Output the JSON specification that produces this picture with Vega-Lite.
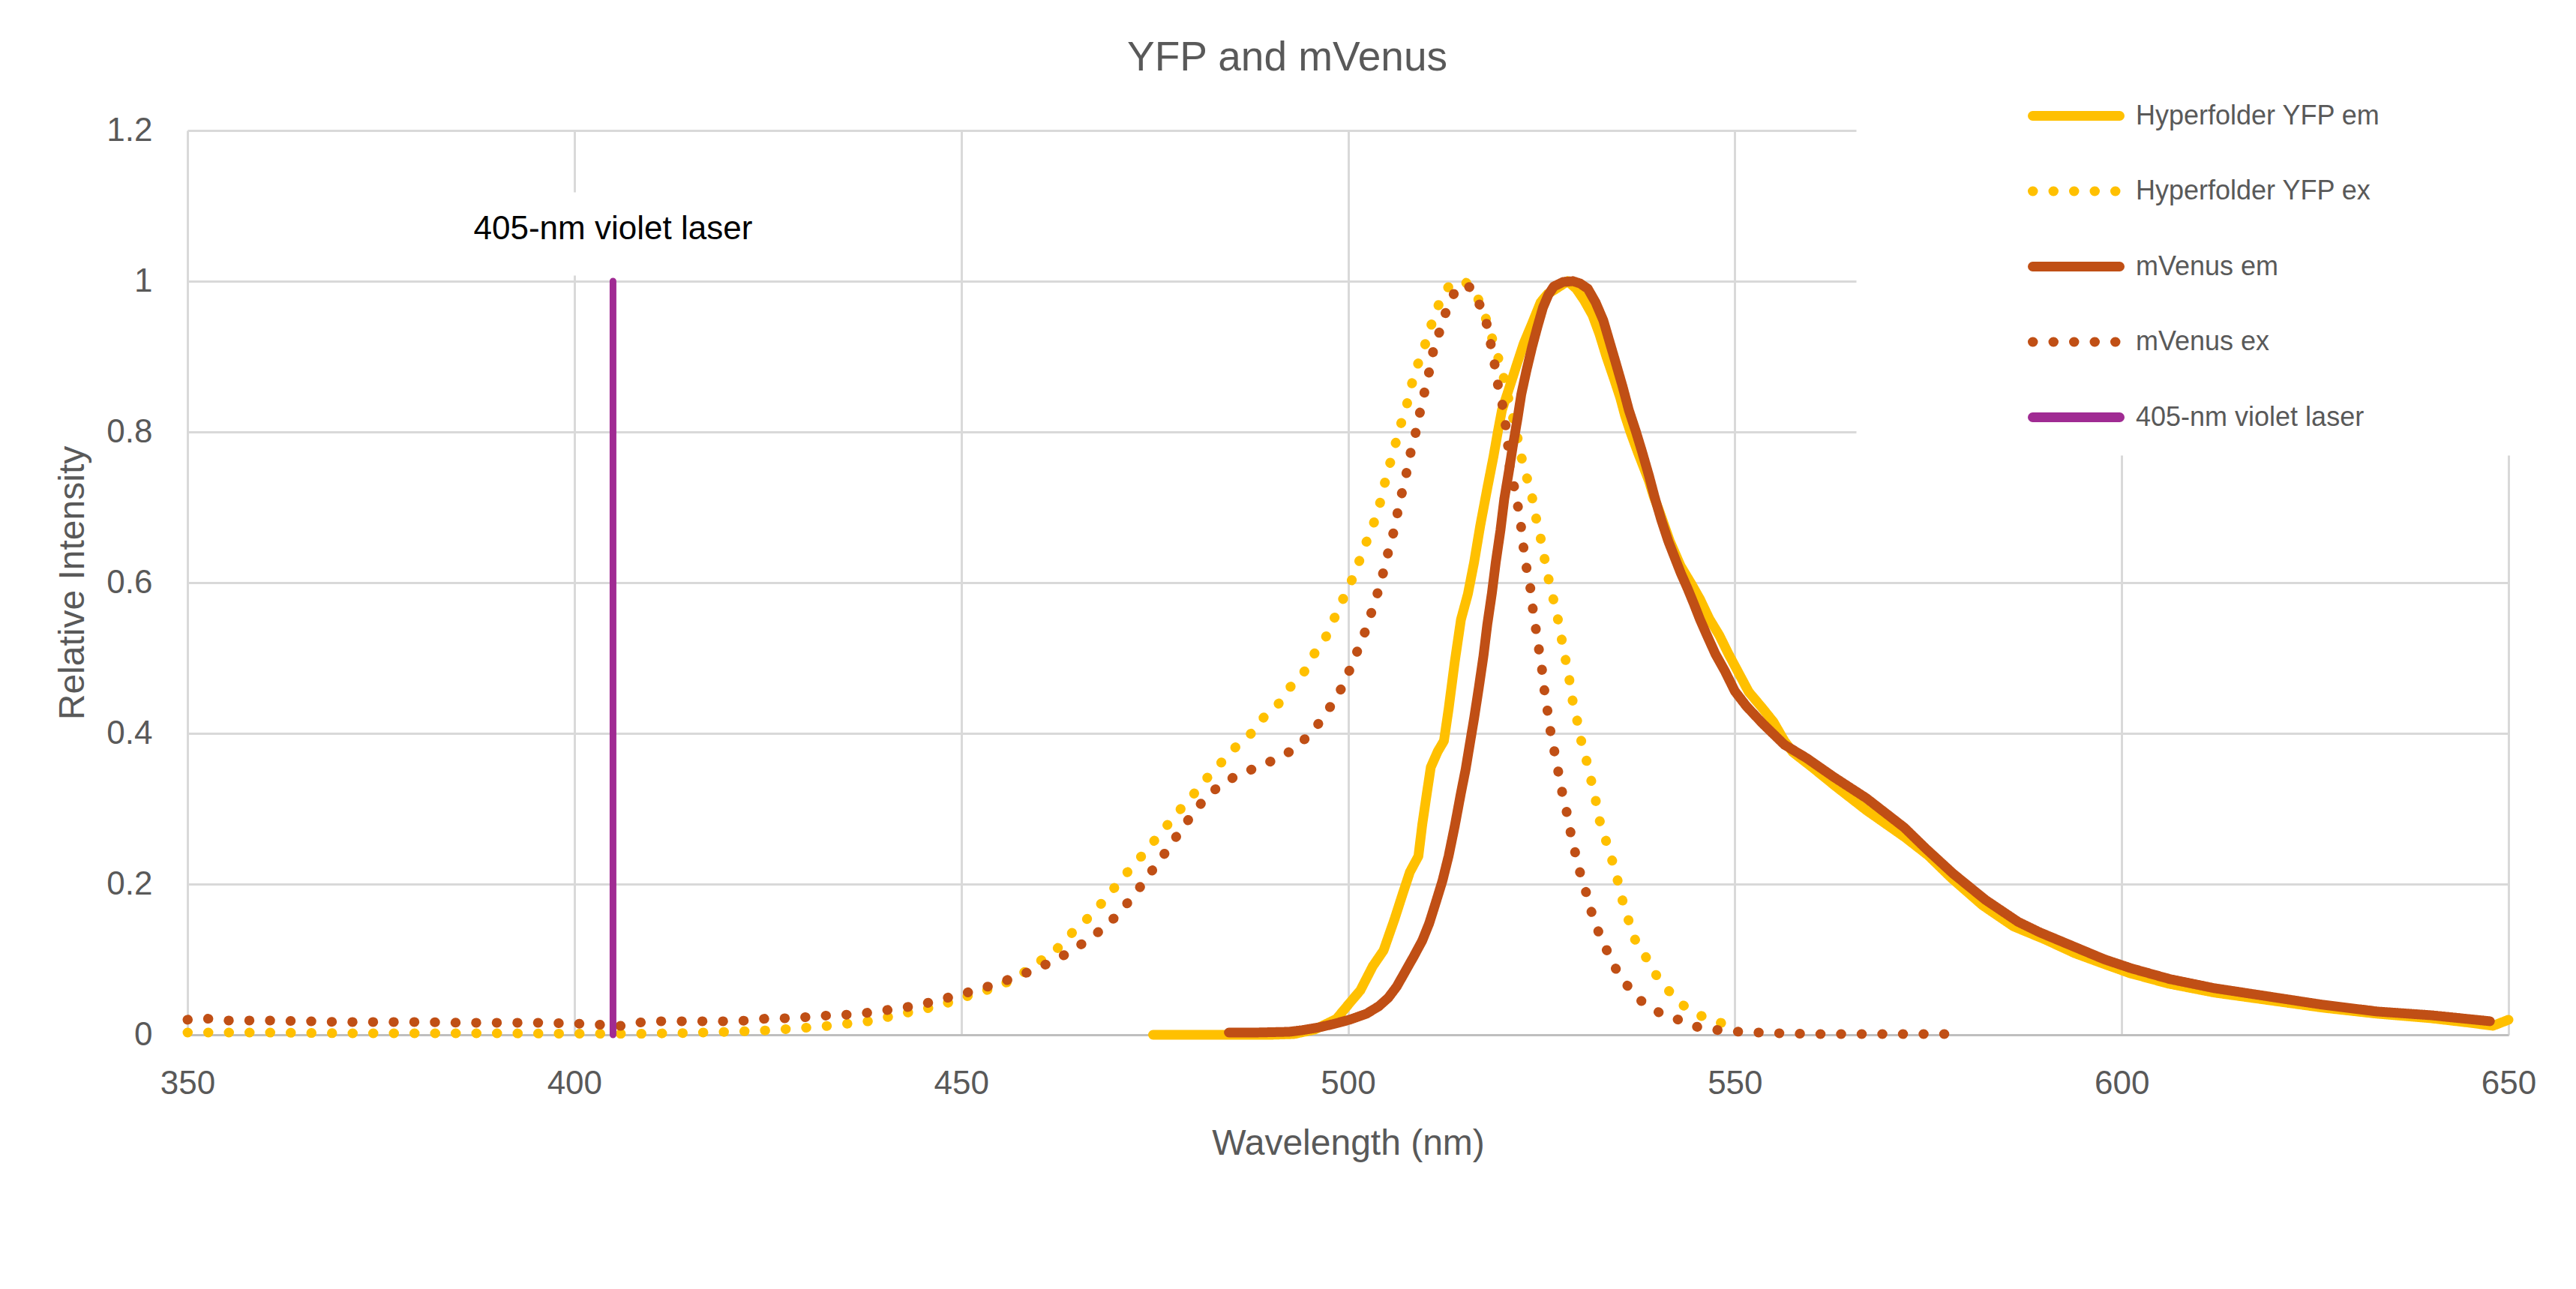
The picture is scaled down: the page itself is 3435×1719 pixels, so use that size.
{
  "$schema": "https://vega.github.io/schema/vega-lite/v6.json",
  "autosize": "none",
  "width": 3095,
  "height": 1206,
  "padding": {"left": 250, "top": 174, "right": 90, "bottom": 339},
  "background": "white",
  "title": {
    "text": "YFP and mVenus",
    "font": "Liberation Sans",
    "fontSize": 55,
    "fontWeight": "normal",
    "color": "#595959",
    "anchor": "middle",
    "dx": -81,
    "dy": 95,
    "offset": 79
  },
  "config": {
    "font": "Liberation Sans",
    "view": {"stroke": null}
  },
  "datasets": {
    "spectra": [
      {"series": "Hyperfolder YFP em", "wl": 474.8, "v": 0},
      {"series": "Hyperfolder YFP em", "wl": 480, "v": 0},
      {"series": "Hyperfolder YFP em", "wl": 485, "v": 0},
      {"series": "Hyperfolder YFP em", "wl": 490, "v": 0},
      {"series": "Hyperfolder YFP em", "wl": 493, "v": 0.001},
      {"series": "Hyperfolder YFP em", "wl": 495.7, "v": 0.007},
      {"series": "Hyperfolder YFP em", "wl": 498.5, "v": 0.021},
      {"series": "Hyperfolder YFP em", "wl": 500.2, "v": 0.042},
      {"series": "Hyperfolder YFP em", "wl": 501.6, "v": 0.059},
      {"series": "Hyperfolder YFP em", "wl": 503.2, "v": 0.091},
      {"series": "Hyperfolder YFP em", "wl": 504.6, "v": 0.112},
      {"series": "Hyperfolder YFP em", "wl": 506, "v": 0.153},
      {"series": "Hyperfolder YFP em", "wl": 507.1, "v": 0.188},
      {"series": "Hyperfolder YFP em", "wl": 508, "v": 0.216},
      {"series": "Hyperfolder YFP em", "wl": 509.1, "v": 0.237},
      {"series": "Hyperfolder YFP em", "wl": 509.6, "v": 0.279},
      {"series": "Hyperfolder YFP em", "wl": 510.2, "v": 0.321},
      {"series": "Hyperfolder YFP em", "wl": 510.7, "v": 0.355},
      {"series": "Hyperfolder YFP em", "wl": 511.6, "v": 0.376},
      {"series": "Hyperfolder YFP em", "wl": 512.4, "v": 0.39},
      {"series": "Hyperfolder YFP em", "wl": 513, "v": 0.432},
      {"series": "Hyperfolder YFP em", "wl": 513.8, "v": 0.495},
      {"series": "Hyperfolder YFP em", "wl": 514.6, "v": 0.551},
      {"series": "Hyperfolder YFP em", "wl": 515.5, "v": 0.585},
      {"series": "Hyperfolder YFP em", "wl": 516.3, "v": 0.627},
      {"series": "Hyperfolder YFP em", "wl": 517.1, "v": 0.676},
      {"series": "Hyperfolder YFP em", "wl": 518, "v": 0.725},
      {"series": "Hyperfolder YFP em", "wl": 518.8, "v": 0.767},
      {"series": "Hyperfolder YFP em", "wl": 519.4, "v": 0.802},
      {"series": "Hyperfolder YFP em", "wl": 519.9, "v": 0.829},
      {"series": "Hyperfolder YFP em", "wl": 520.8, "v": 0.857},
      {"series": "Hyperfolder YFP em", "wl": 521.9, "v": 0.892},
      {"series": "Hyperfolder YFP em", "wl": 522.7, "v": 0.917},
      {"series": "Hyperfolder YFP em", "wl": 523.8, "v": 0.944},
      {"series": "Hyperfolder YFP em", "wl": 524.9, "v": 0.972},
      {"series": "Hyperfolder YFP em", "wl": 525.8, "v": 0.983},
      {"series": "Hyperfolder YFP em", "wl": 526.9, "v": 0.99},
      {"series": "Hyperfolder YFP em", "wl": 528.4, "v": 1.0},
      {"series": "Hyperfolder YFP em", "wl": 529.5, "v": 0.99},
      {"series": "Hyperfolder YFP em", "wl": 530.5, "v": 0.975},
      {"series": "Hyperfolder YFP em", "wl": 531.6, "v": 0.955},
      {"series": "Hyperfolder YFP em", "wl": 532.5, "v": 0.93},
      {"series": "Hyperfolder YFP em", "wl": 533.4, "v": 0.9},
      {"series": "Hyperfolder YFP em", "wl": 534.4, "v": 0.87},
      {"series": "Hyperfolder YFP em", "wl": 535.2, "v": 0.845},
      {"series": "Hyperfolder YFP em", "wl": 535.8, "v": 0.822},
      {"series": "Hyperfolder YFP em", "wl": 536.5, "v": 0.8},
      {"series": "Hyperfolder YFP em", "wl": 537.5, "v": 0.772},
      {"series": "Hyperfolder YFP em", "wl": 538.9, "v": 0.735},
      {"series": "Hyperfolder YFP em", "wl": 539.5, "v": 0.715},
      {"series": "Hyperfolder YFP em", "wl": 540.3, "v": 0.693},
      {"series": "Hyperfolder YFP em", "wl": 541.6, "v": 0.655},
      {"series": "Hyperfolder YFP em", "wl": 543, "v": 0.622},
      {"series": "Hyperfolder YFP em", "wl": 544.4, "v": 0.598},
      {"series": "Hyperfolder YFP em", "wl": 545.5, "v": 0.578},
      {"series": "Hyperfolder YFP em", "wl": 546.7, "v": 0.552},
      {"series": "Hyperfolder YFP em", "wl": 548, "v": 0.53},
      {"series": "Hyperfolder YFP em", "wl": 549.2, "v": 0.505},
      {"series": "Hyperfolder YFP em", "wl": 550.5, "v": 0.48},
      {"series": "Hyperfolder YFP em", "wl": 551.8, "v": 0.455},
      {"series": "Hyperfolder YFP em", "wl": 553.6, "v": 0.433},
      {"series": "Hyperfolder YFP em", "wl": 555, "v": 0.415},
      {"series": "Hyperfolder YFP em", "wl": 556.4, "v": 0.39},
      {"series": "Hyperfolder YFP em", "wl": 557.5, "v": 0.375},
      {"series": "Hyperfolder YFP em", "wl": 560, "v": 0.355},
      {"series": "Hyperfolder YFP em", "wl": 563, "v": 0.33},
      {"series": "Hyperfolder YFP em", "wl": 567, "v": 0.298},
      {"series": "Hyperfolder YFP em", "wl": 572, "v": 0.262},
      {"series": "Hyperfolder YFP em", "wl": 575, "v": 0.238},
      {"series": "Hyperfolder YFP em", "wl": 578, "v": 0.208},
      {"series": "Hyperfolder YFP em", "wl": 582, "v": 0.172},
      {"series": "Hyperfolder YFP em", "wl": 586, "v": 0.144},
      {"series": "Hyperfolder YFP em", "wl": 590, "v": 0.127},
      {"series": "Hyperfolder YFP em", "wl": 594, "v": 0.108},
      {"series": "Hyperfolder YFP em", "wl": 598, "v": 0.093},
      {"series": "Hyperfolder YFP em", "wl": 601, "v": 0.082},
      {"series": "Hyperfolder YFP em", "wl": 606, "v": 0.068},
      {"series": "Hyperfolder YFP em", "wl": 612, "v": 0.056},
      {"series": "Hyperfolder YFP em", "wl": 619, "v": 0.046},
      {"series": "Hyperfolder YFP em", "wl": 626, "v": 0.036},
      {"series": "Hyperfolder YFP em", "wl": 633, "v": 0.028},
      {"series": "Hyperfolder YFP em", "wl": 640, "v": 0.022},
      {"series": "Hyperfolder YFP em", "wl": 645, "v": 0.016},
      {"series": "Hyperfolder YFP em", "wl": 648, "v": 0.012},
      {"series": "Hyperfolder YFP em", "wl": 650, "v": 0.02},

      {"series": "Hyperfolder YFP ex", "wl": 350, "v": 0.003},
      {"series": "Hyperfolder YFP ex", "wl": 360, "v": 0.003},
      {"series": "Hyperfolder YFP ex", "wl": 370, "v": 0.002},
      {"series": "Hyperfolder YFP ex", "wl": 380, "v": 0.002},
      {"series": "Hyperfolder YFP ex", "wl": 390, "v": 0.002},
      {"series": "Hyperfolder YFP ex", "wl": 400, "v": 0.0015},
      {"series": "Hyperfolder YFP ex", "wl": 409, "v": 0.0014},
      {"series": "Hyperfolder YFP ex", "wl": 412, "v": 0.002},
      {"series": "Hyperfolder YFP ex", "wl": 415, "v": 0.0025},
      {"series": "Hyperfolder YFP ex", "wl": 418, "v": 0.0035},
      {"series": "Hyperfolder YFP ex", "wl": 420, "v": 0.004},
      {"series": "Hyperfolder YFP ex", "wl": 423, "v": 0.005},
      {"series": "Hyperfolder YFP ex", "wl": 425, "v": 0.006},
      {"series": "Hyperfolder YFP ex", "wl": 428, "v": 0.008},
      {"series": "Hyperfolder YFP ex", "wl": 430, "v": 0.0095},
      {"series": "Hyperfolder YFP ex", "wl": 433, "v": 0.012},
      {"series": "Hyperfolder YFP ex", "wl": 435.5, "v": 0.015},
      {"series": "Hyperfolder YFP ex", "wl": 438, "v": 0.018},
      {"series": "Hyperfolder YFP ex", "wl": 440.7, "v": 0.024},
      {"series": "Hyperfolder YFP ex", "wl": 443.3, "v": 0.03},
      {"series": "Hyperfolder YFP ex", "wl": 446, "v": 0.036},
      {"series": "Hyperfolder YFP ex", "wl": 448.4, "v": 0.043},
      {"series": "Hyperfolder YFP ex", "wl": 451, "v": 0.052},
      {"series": "Hyperfolder YFP ex", "wl": 453.5, "v": 0.06},
      {"series": "Hyperfolder YFP ex", "wl": 456, "v": 0.07},
      {"series": "Hyperfolder YFP ex", "wl": 458.3, "v": 0.084},
      {"series": "Hyperfolder YFP ex", "wl": 460.5, "v": 0.1},
      {"series": "Hyperfolder YFP ex", "wl": 462.6, "v": 0.116},
      {"series": "Hyperfolder YFP ex", "wl": 464.4, "v": 0.136},
      {"series": "Hyperfolder YFP ex", "wl": 466.3, "v": 0.154},
      {"series": "Hyperfolder YFP ex", "wl": 468.1, "v": 0.174},
      {"series": "Hyperfolder YFP ex", "wl": 469.8, "v": 0.195},
      {"series": "Hyperfolder YFP ex", "wl": 471.5, "v": 0.216},
      {"series": "Hyperfolder YFP ex", "wl": 473.3, "v": 0.237},
      {"series": "Hyperfolder YFP ex", "wl": 475, "v": 0.258},
      {"series": "Hyperfolder YFP ex", "wl": 476.7, "v": 0.279},
      {"series": "Hyperfolder YFP ex", "wl": 478.4, "v": 0.3},
      {"series": "Hyperfolder YFP ex", "wl": 480.1, "v": 0.32},
      {"series": "Hyperfolder YFP ex", "wl": 481.8, "v": 0.341},
      {"series": "Hyperfolder YFP ex", "wl": 483.6, "v": 0.361},
      {"series": "Hyperfolder YFP ex", "wl": 485.4, "v": 0.381},
      {"series": "Hyperfolder YFP ex", "wl": 487.4, "v": 0.399},
      {"series": "Hyperfolder YFP ex", "wl": 489, "v": 0.42},
      {"series": "Hyperfolder YFP ex", "wl": 491, "v": 0.439},
      {"series": "Hyperfolder YFP ex", "wl": 492.5, "v": 0.461},
      {"series": "Hyperfolder YFP ex", "wl": 494.3, "v": 0.481},
      {"series": "Hyperfolder YFP ex", "wl": 495.6, "v": 0.505},
      {"series": "Hyperfolder YFP ex", "wl": 497.1, "v": 0.527},
      {"series": "Hyperfolder YFP ex", "wl": 498.2, "v": 0.552},
      {"series": "Hyperfolder YFP ex", "wl": 499.3, "v": 0.577},
      {"series": "Hyperfolder YFP ex", "wl": 500.4, "v": 0.601},
      {"series": "Hyperfolder YFP ex", "wl": 501.4, "v": 0.627},
      {"series": "Hyperfolder YFP ex", "wl": 502.3, "v": 0.652},
      {"series": "Hyperfolder YFP ex", "wl": 503.3, "v": 0.678},
      {"series": "Hyperfolder YFP ex", "wl": 504.1, "v": 0.704},
      {"series": "Hyperfolder YFP ex", "wl": 504.7, "v": 0.73},
      {"series": "Hyperfolder YFP ex", "wl": 505.4, "v": 0.757},
      {"series": "Hyperfolder YFP ex", "wl": 506.1, "v": 0.783},
      {"series": "Hyperfolder YFP ex", "wl": 506.8, "v": 0.809},
      {"series": "Hyperfolder YFP ex", "wl": 507.6, "v": 0.836},
      {"series": "Hyperfolder YFP ex", "wl": 508.2, "v": 0.862},
      {"series": "Hyperfolder YFP ex", "wl": 509, "v": 0.889},
      {"series": "Hyperfolder YFP ex", "wl": 509.9, "v": 0.914},
      {"series": "Hyperfolder YFP ex", "wl": 510.7, "v": 0.94},
      {"series": "Hyperfolder YFP ex", "wl": 511.6, "v": 0.966},
      {"series": "Hyperfolder YFP ex", "wl": 512.7, "v": 0.99},
      {"series": "Hyperfolder YFP ex", "wl": 514, "v": 1.0},
      {"series": "Hyperfolder YFP ex", "wl": 515.2, "v": 0.999},
      {"series": "Hyperfolder YFP ex", "wl": 516.8, "v": 0.977},
      {"series": "Hyperfolder YFP ex", "wl": 517.8, "v": 0.951},
      {"series": "Hyperfolder YFP ex", "wl": 518.6, "v": 0.925},
      {"series": "Hyperfolder YFP ex", "wl": 519.4, "v": 0.899},
      {"series": "Hyperfolder YFP ex", "wl": 520.1, "v": 0.873},
      {"series": "Hyperfolder YFP ex", "wl": 520.7, "v": 0.846},
      {"series": "Hyperfolder YFP ex", "wl": 521.3, "v": 0.82},
      {"series": "Hyperfolder YFP ex", "wl": 521.9, "v": 0.793},
      {"series": "Hyperfolder YFP ex", "wl": 522.4, "v": 0.767},
      {"series": "Hyperfolder YFP ex", "wl": 523.1, "v": 0.74},
      {"series": "Hyperfolder YFP ex", "wl": 523.8, "v": 0.713},
      {"series": "Hyperfolder YFP ex", "wl": 524.3, "v": 0.686},
      {"series": "Hyperfolder YFP ex", "wl": 524.9, "v": 0.659},
      {"series": "Hyperfolder YFP ex", "wl": 525.4, "v": 0.632},
      {"series": "Hyperfolder YFP ex", "wl": 525.9, "v": 0.606},
      {"series": "Hyperfolder YFP ex", "wl": 526.5, "v": 0.58},
      {"series": "Hyperfolder YFP ex", "wl": 527.1, "v": 0.553},
      {"series": "Hyperfolder YFP ex", "wl": 527.6, "v": 0.526},
      {"series": "Hyperfolder YFP ex", "wl": 528.1, "v": 0.499},
      {"series": "Hyperfolder YFP ex", "wl": 528.6, "v": 0.472},
      {"series": "Hyperfolder YFP ex", "wl": 529, "v": 0.445},
      {"series": "Hyperfolder YFP ex", "wl": 529.6, "v": 0.418},
      {"series": "Hyperfolder YFP ex", "wl": 530.1, "v": 0.392},
      {"series": "Hyperfolder YFP ex", "wl": 530.8, "v": 0.365},
      {"series": "Hyperfolder YFP ex", "wl": 531.4, "v": 0.339},
      {"series": "Hyperfolder YFP ex", "wl": 532, "v": 0.312},
      {"series": "Hyperfolder YFP ex", "wl": 532.5, "v": 0.285},
      {"series": "Hyperfolder YFP ex", "wl": 533.3, "v": 0.259},
      {"series": "Hyperfolder YFP ex", "wl": 534.1, "v": 0.233},
      {"series": "Hyperfolder YFP ex", "wl": 534.8, "v": 0.207},
      {"series": "Hyperfolder YFP ex", "wl": 535.4, "v": 0.181},
      {"series": "Hyperfolder YFP ex", "wl": 536.2, "v": 0.154},
      {"series": "Hyperfolder YFP ex", "wl": 537, "v": 0.128},
      {"series": "Hyperfolder YFP ex", "wl": 538.4, "v": 0.105},
      {"series": "Hyperfolder YFP ex", "wl": 539.7, "v": 0.081},
      {"series": "Hyperfolder YFP ex", "wl": 541.4, "v": 0.059},
      {"series": "Hyperfolder YFP ex", "wl": 543.2, "v": 0.04},
      {"series": "Hyperfolder YFP ex", "wl": 545.4, "v": 0.026},
      {"series": "Hyperfolder YFP ex", "wl": 547.9, "v": 0.017},
      {"series": "Hyperfolder YFP ex", "wl": 550, "v": 0.009},

      {"series": "mVenus em", "wl": 484.6, "v": 0.003},
      {"series": "mVenus em", "wl": 488, "v": 0.003},
      {"series": "mVenus em", "wl": 492.4, "v": 0.004},
      {"series": "mVenus em", "wl": 494, "v": 0.006},
      {"series": "mVenus em", "wl": 496.3, "v": 0.01},
      {"series": "mVenus em", "wl": 498, "v": 0.014},
      {"series": "mVenus em", "wl": 500.2, "v": 0.02},
      {"series": "mVenus em", "wl": 502.4, "v": 0.028},
      {"series": "mVenus em", "wl": 504, "v": 0.038},
      {"series": "mVenus em", "wl": 505.2, "v": 0.049},
      {"series": "mVenus em", "wl": 506.3, "v": 0.064},
      {"series": "mVenus em", "wl": 507.4, "v": 0.084},
      {"series": "mVenus em", "wl": 508.5, "v": 0.104},
      {"series": "mVenus em", "wl": 509.6, "v": 0.125},
      {"series": "mVenus em", "wl": 510.5, "v": 0.148},
      {"series": "mVenus em", "wl": 511.3, "v": 0.174},
      {"series": "mVenus em", "wl": 512.2, "v": 0.204},
      {"series": "mVenus em", "wl": 513, "v": 0.237},
      {"series": "mVenus em", "wl": 513.8, "v": 0.277},
      {"series": "mVenus em", "wl": 514.6, "v": 0.321},
      {"series": "mVenus em", "wl": 515.2, "v": 0.352},
      {"series": "mVenus em", "wl": 515.7, "v": 0.383},
      {"series": "mVenus em", "wl": 516.3, "v": 0.42},
      {"series": "mVenus em", "wl": 516.9, "v": 0.46},
      {"series": "mVenus em", "wl": 517.5, "v": 0.502},
      {"series": "mVenus em", "wl": 518, "v": 0.544},
      {"series": "mVenus em", "wl": 518.6, "v": 0.586},
      {"series": "mVenus em", "wl": 519.1, "v": 0.627},
      {"series": "mVenus em", "wl": 519.7, "v": 0.669},
      {"series": "mVenus em", "wl": 520.2, "v": 0.711},
      {"series": "mVenus em", "wl": 520.8, "v": 0.748},
      {"series": "mVenus em", "wl": 521.3, "v": 0.781},
      {"series": "mVenus em", "wl": 521.9, "v": 0.817},
      {"series": "mVenus em", "wl": 522.4, "v": 0.85},
      {"series": "mVenus em", "wl": 523.1, "v": 0.883},
      {"series": "mVenus em", "wl": 523.8, "v": 0.913},
      {"series": "mVenus em", "wl": 524.5, "v": 0.94},
      {"series": "mVenus em", "wl": 525.2, "v": 0.965},
      {"series": "mVenus em", "wl": 525.9, "v": 0.982},
      {"series": "mVenus em", "wl": 526.6, "v": 0.993},
      {"series": "mVenus em", "wl": 527.8, "v": 0.999},
      {"series": "mVenus em", "wl": 529.1, "v": 1.0},
      {"series": "mVenus em", "wl": 530, "v": 0.997},
      {"series": "mVenus em", "wl": 531, "v": 0.99},
      {"series": "mVenus em", "wl": 532, "v": 0.972},
      {"series": "mVenus em", "wl": 533, "v": 0.948},
      {"series": "mVenus em", "wl": 533.8, "v": 0.92},
      {"series": "mVenus em", "wl": 534.6, "v": 0.892},
      {"series": "mVenus em", "wl": 535.5, "v": 0.86},
      {"series": "mVenus em", "wl": 536.3, "v": 0.829},
      {"series": "mVenus em", "wl": 537.2, "v": 0.801},
      {"series": "mVenus em", "wl": 538, "v": 0.774},
      {"series": "mVenus em", "wl": 538.9, "v": 0.742},
      {"series": "mVenus em", "wl": 539.7, "v": 0.711},
      {"series": "mVenus em", "wl": 540.5, "v": 0.683},
      {"series": "mVenus em", "wl": 541.4, "v": 0.655},
      {"series": "mVenus em", "wl": 542.2, "v": 0.634},
      {"series": "mVenus em", "wl": 543, "v": 0.613},
      {"series": "mVenus em", "wl": 543.9, "v": 0.592},
      {"series": "mVenus em", "wl": 544.7, "v": 0.572},
      {"series": "mVenus em", "wl": 545.5, "v": 0.551},
      {"series": "mVenus em", "wl": 546.4, "v": 0.53},
      {"series": "mVenus em", "wl": 547.5, "v": 0.505},
      {"series": "mVenus em", "wl": 548.7, "v": 0.483},
      {"series": "mVenus em", "wl": 550, "v": 0.456},
      {"series": "mVenus em", "wl": 551.5, "v": 0.436},
      {"series": "mVenus em", "wl": 553.6, "v": 0.413},
      {"series": "mVenus em", "wl": 556.4, "v": 0.385},
      {"series": "mVenus em", "wl": 559.3, "v": 0.367},
      {"series": "mVenus em", "wl": 562.8, "v": 0.342},
      {"series": "mVenus em", "wl": 567, "v": 0.314},
      {"series": "mVenus em", "wl": 571.9, "v": 0.275},
      {"series": "mVenus em", "wl": 574.7, "v": 0.247},
      {"series": "mVenus em", "wl": 578.2, "v": 0.214},
      {"series": "mVenus em", "wl": 582.4, "v": 0.179},
      {"series": "mVenus em", "wl": 586.6, "v": 0.15},
      {"series": "mVenus em", "wl": 589.4, "v": 0.136},
      {"series": "mVenus em", "wl": 594.3, "v": 0.115},
      {"series": "mVenus em", "wl": 597.8, "v": 0.1},
      {"series": "mVenus em", "wl": 601.3, "v": 0.088},
      {"series": "mVenus em", "wl": 606.2, "v": 0.074},
      {"series": "mVenus em", "wl": 611.9, "v": 0.062},
      {"series": "mVenus em", "wl": 618.9, "v": 0.051},
      {"series": "mVenus em", "wl": 625.9, "v": 0.04},
      {"series": "mVenus em", "wl": 632.9, "v": 0.031},
      {"series": "mVenus em", "wl": 639.9, "v": 0.026},
      {"series": "mVenus em", "wl": 647.6, "v": 0.018},

      {"series": "mVenus ex", "wl": 350, "v": 0.02},
      {"series": "mVenus ex", "wl": 352, "v": 0.022},
      {"series": "mVenus ex", "wl": 355, "v": 0.019},
      {"series": "mVenus ex", "wl": 360, "v": 0.019},
      {"series": "mVenus ex", "wl": 365, "v": 0.018},
      {"series": "mVenus ex", "wl": 370, "v": 0.017},
      {"series": "mVenus ex", "wl": 380, "v": 0.017},
      {"series": "mVenus ex", "wl": 385, "v": 0.016},
      {"series": "mVenus ex", "wl": 395, "v": 0.016},
      {"series": "mVenus ex", "wl": 400, "v": 0.015},
      {"series": "mVenus ex", "wl": 404, "v": 0.013},
      {"series": "mVenus ex", "wl": 406.6, "v": 0.0115},
      {"series": "mVenus ex", "wl": 409.2, "v": 0.018},
      {"series": "mVenus ex", "wl": 420, "v": 0.018},
      {"series": "mVenus ex", "wl": 422.5, "v": 0.019},
      {"series": "mVenus ex", "wl": 425.2, "v": 0.022},
      {"series": "mVenus ex", "wl": 428, "v": 0.022},
      {"series": "mVenus ex", "wl": 430.6, "v": 0.024},
      {"series": "mVenus ex", "wl": 433.2, "v": 0.026},
      {"series": "mVenus ex", "wl": 436, "v": 0.027},
      {"series": "mVenus ex", "wl": 438.5, "v": 0.03},
      {"series": "mVenus ex", "wl": 441.2, "v": 0.034},
      {"series": "mVenus ex", "wl": 443.8, "v": 0.038},
      {"series": "mVenus ex", "wl": 446.4, "v": 0.044},
      {"series": "mVenus ex", "wl": 448.9, "v": 0.051},
      {"series": "mVenus ex", "wl": 451.5, "v": 0.058},
      {"series": "mVenus ex", "wl": 454.1, "v": 0.066},
      {"series": "mVenus ex", "wl": 456.6, "v": 0.075},
      {"series": "mVenus ex", "wl": 459.1, "v": 0.085},
      {"series": "mVenus ex", "wl": 461.5, "v": 0.096},
      {"series": "mVenus ex", "wl": 463.9, "v": 0.109},
      {"series": "mVenus ex", "wl": 466.1, "v": 0.124},
      {"series": "mVenus ex", "wl": 468.2, "v": 0.14},
      {"series": "mVenus ex", "wl": 470.2, "v": 0.159},
      {"series": "mVenus ex", "wl": 471.9, "v": 0.18},
      {"series": "mVenus ex", "wl": 473.5, "v": 0.201},
      {"series": "mVenus ex", "wl": 475.1, "v": 0.224},
      {"series": "mVenus ex", "wl": 476.7, "v": 0.246},
      {"series": "mVenus ex", "wl": 478.2, "v": 0.269},
      {"series": "mVenus ex", "wl": 479.7, "v": 0.29},
      {"series": "mVenus ex", "wl": 481.4, "v": 0.312},
      {"series": "mVenus ex", "wl": 483.3, "v": 0.33},
      {"series": "mVenus ex", "wl": 485.6, "v": 0.344},
      {"series": "mVenus ex", "wl": 488, "v": 0.354},
      {"series": "mVenus ex", "wl": 490.5, "v": 0.365},
      {"series": "mVenus ex", "wl": 492.9, "v": 0.378},
      {"series": "mVenus ex", "wl": 494.9, "v": 0.397},
      {"series": "mVenus ex", "wl": 496.6, "v": 0.418},
      {"series": "mVenus ex", "wl": 498, "v": 0.44},
      {"series": "mVenus ex", "wl": 499.4, "v": 0.464},
      {"series": "mVenus ex", "wl": 500.4, "v": 0.489},
      {"series": "mVenus ex", "wl": 501.4, "v": 0.514},
      {"series": "mVenus ex", "wl": 502.4, "v": 0.54},
      {"series": "mVenus ex", "wl": 503.2, "v": 0.566},
      {"series": "mVenus ex", "wl": 504, "v": 0.592},
      {"series": "mVenus ex", "wl": 504.7, "v": 0.619},
      {"series": "mVenus ex", "wl": 505.3, "v": 0.645},
      {"series": "mVenus ex", "wl": 506, "v": 0.671},
      {"series": "mVenus ex", "wl": 506.5, "v": 0.698},
      {"series": "mVenus ex", "wl": 507.1, "v": 0.725},
      {"series": "mVenus ex", "wl": 507.7, "v": 0.752},
      {"series": "mVenus ex", "wl": 508.2, "v": 0.778},
      {"series": "mVenus ex", "wl": 508.9, "v": 0.805},
      {"series": "mVenus ex", "wl": 509.4, "v": 0.831},
      {"series": "mVenus ex", "wl": 510, "v": 0.858},
      {"series": "mVenus ex", "wl": 510.6, "v": 0.885},
      {"series": "mVenus ex", "wl": 511.1, "v": 0.912},
      {"series": "mVenus ex", "wl": 512, "v": 0.938},
      {"series": "mVenus ex", "wl": 512.8, "v": 0.964},
      {"series": "mVenus ex", "wl": 513.9, "v": 0.988},
      {"series": "mVenus ex", "wl": 515, "v": 0.996},
      {"series": "mVenus ex", "wl": 515.9, "v": 0.991},
      {"series": "mVenus ex", "wl": 517.1, "v": 0.967},
      {"series": "mVenus ex", "wl": 518, "v": 0.941},
      {"series": "mVenus ex", "wl": 518.5, "v": 0.914},
      {"series": "mVenus ex", "wl": 519, "v": 0.887},
      {"series": "mVenus ex", "wl": 519.4, "v": 0.861},
      {"series": "mVenus ex", "wl": 520, "v": 0.834},
      {"series": "mVenus ex", "wl": 520.4, "v": 0.807},
      {"series": "mVenus ex", "wl": 520.7, "v": 0.78},
      {"series": "mVenus ex", "wl": 520.9, "v": 0.753},
      {"series": "mVenus ex", "wl": 521.5, "v": 0.726},
      {"series": "mVenus ex", "wl": 522, "v": 0.699},
      {"series": "mVenus ex", "wl": 522.4, "v": 0.672},
      {"series": "mVenus ex", "wl": 522.7, "v": 0.645},
      {"series": "mVenus ex", "wl": 523.1, "v": 0.618},
      {"series": "mVenus ex", "wl": 523.6, "v": 0.591},
      {"series": "mVenus ex", "wl": 523.9, "v": 0.564},
      {"series": "mVenus ex", "wl": 524.3, "v": 0.537},
      {"series": "mVenus ex", "wl": 524.7, "v": 0.51},
      {"series": "mVenus ex", "wl": 525.1, "v": 0.483},
      {"series": "mVenus ex", "wl": 525.4, "v": 0.456},
      {"series": "mVenus ex", "wl": 525.8, "v": 0.429},
      {"series": "mVenus ex", "wl": 526.2, "v": 0.401},
      {"series": "mVenus ex", "wl": 526.7, "v": 0.375},
      {"series": "mVenus ex", "wl": 527.2, "v": 0.348},
      {"series": "mVenus ex", "wl": 527.7, "v": 0.321},
      {"series": "mVenus ex", "wl": 528.3, "v": 0.294},
      {"series": "mVenus ex", "wl": 528.8, "v": 0.267},
      {"series": "mVenus ex", "wl": 529.4, "v": 0.24},
      {"series": "mVenus ex", "wl": 530, "v": 0.215},
      {"series": "mVenus ex", "wl": 530.8, "v": 0.188},
      {"series": "mVenus ex", "wl": 531.5, "v": 0.162},
      {"series": "mVenus ex", "wl": 532.4, "v": 0.136},
      {"series": "mVenus ex", "wl": 533.5, "v": 0.111},
      {"series": "mVenus ex", "wl": 534.7, "v": 0.086},
      {"series": "mVenus ex", "wl": 536.2, "v": 0.064},
      {"series": "mVenus ex", "wl": 538, "v": 0.044},
      {"series": "mVenus ex", "wl": 540.3, "v": 0.029},
      {"series": "mVenus ex", "wl": 542.7, "v": 0.02},
      {"series": "mVenus ex", "wl": 545.3, "v": 0.01},
      {"series": "mVenus ex", "wl": 548, "v": 0.006},
      {"series": "mVenus ex", "wl": 550.6, "v": 0.004},
      {"series": "mVenus ex", "wl": 553, "v": 0.003},
      {"series": "mVenus ex", "wl": 556, "v": 0.002},
      {"series": "mVenus ex", "wl": 560, "v": 0.001},
      {"series": "mVenus ex", "wl": 570, "v": 0.001},
      {"series": "mVenus ex", "wl": 578, "v": 0.001}
    ],
    "laser": [
      {"series": "405-nm violet laser", "wl": 405, "v": 0},
      {"series": "405-nm violet laser", "wl": 405, "v": 1}
    ],
    "notes": [
      {"wl": 405, "v": 1.069, "label": "405-nm violet laser"}
    ]
  },
  "layer": [
    {
      "data": {"name": "spectra"},
      "mark": {"type": "line", "strokeWidth": 13, "strokeCap": "round", "strokeJoin": "round"},
      "encoding": {
        "x": {
          "field": "wl",
          "type": "quantitative",
          "scale": {"domain": [350, 650], "nice": false, "zero": false},
          "axis": {
            "title": "Wavelength (nm)",
            "values": [350, 400, 450, 500, 550, 600, 650],
            "format": "d",
            "grid": true,
            "gridColor": "#d9d9d9",
            "gridWidth": 3,
            "gridDash": {
              "condition": [
                {"test": "datum.value === 400", "value": [82, 111, 3000]},
                {"test": "datum.value >= 600", "value": [0, 433, 3000]}
              ],
              "value": []
            },
            "domainColor": "#bfbfbf",
            "domainWidth": 3,
            "ticks": false,
            "tickSize": 0,
            "labelFont": "Liberation Sans",
            "labelFontSize": 44,
            "labelColor": "#595959",
            "labelPadding": 43,
            "labelFlush": false,
            "labelOverlap": false,
            "titleFont": "Liberation Sans",
            "titleFontSize": 48,
            "titleFontWeight": "normal",
            "titleColor": "#595959",
            "titlePadding": 34
          }
        },
        "y": {
          "field": "v",
          "type": "quantitative",
          "scale": {"domain": [0, 1.2], "nice": false},
          "axis": {
            "title": "Relative Intensity",
            "values": [0, 0.2, 0.4, 0.6, 0.8, 1, 1.2],
            "format": "~g",
            "grid": true,
            "gridColor": "#d9d9d9",
            "gridWidth": 3,
            "gridDash": {
              "condition": {"test": "datum.value >= 0.79", "value": [2225, 3000]},
              "value": []
            },
            "domain": false,
            "ticks": false,
            "tickSize": 0,
            "labelFont": "Liberation Sans",
            "labelFontSize": 44,
            "labelColor": "#595959",
            "labelPadding": 47,
            "titleFont": "Liberation Sans",
            "titleFontSize": 48,
            "titleFontWeight": "normal",
            "titleColor": "#595959",
            "titlePadding": 20
          }
        },
        "color": {
          "field": "series",
          "type": "nominal",
          "scale": {
            "domain": ["Hyperfolder YFP em", "Hyperfolder YFP ex", "mVenus em", "mVenus ex", "405-nm violet laser"],
            "range": ["#FFC000", "#FFC000", "#C04F15", "#C04F15", "#A02B93"]
          },
          "legend": {
            "title": null,
            "orient": "none",
            "legendX": 2454,
            "legendY": -84,
            "padding": 0,
            "symbolType": "stroke",
            "symbolSize": 13456,
            "symbolStrokeWidth": 13,
            "labelFont": "Liberation Sans",
            "labelFontSize": 36,
            "labelColor": "#595959",
            "labelOffset": 15,
            "labelLimit": 800,
            "rowPadding": 9.5,
            "encode": {"symbols": {"update": {"strokeCap": {"value": "round"}}}}
          }
        },
        "strokeDash": {
          "field": "series",
          "type": "nominal",
          "scale": {
            "domain": ["Hyperfolder YFP em", "Hyperfolder YFP ex", "mVenus em", "mVenus ex", "405-nm violet laser"],
            "range": [[1, 0], [0.5, 27], [1, 0], [0.5, 27], [1, 0]]
          },
          "legend": {
            "title": null,
            "orient": "none",
            "legendX": 2454,
            "legendY": -84,
            "padding": 0,
            "symbolType": "stroke",
            "symbolSize": 13456,
            "symbolStrokeWidth": 13,
            "labelFont": "Liberation Sans",
            "labelFontSize": 36,
            "labelColor": "#595959",
            "labelOffset": 15,
            "labelLimit": 800,
            "rowPadding": 9.5,
            "encode": {"symbols": {"update": {"strokeCap": {"value": "round"}}}}
          }
        }
      }
    },
    {
      "data": {"name": "laser"},
      "mark": {"type": "line", "strokeWidth": 9, "strokeCap": "round"},
      "encoding": {
        "x": {"field": "wl", "type": "quantitative"},
        "y": {"field": "v", "type": "quantitative"},
        "order": {"field": "v", "type": "quantitative"},
        "color": {"field": "series", "type": "nominal"},
        "strokeDash": {"field": "series", "type": "nominal"}
      }
    },
    {
      "data": {"name": "notes"},
      "mark": {"type": "text", "font": "Liberation Sans", "fontSize": 44, "color": "#000000", "align": "center", "baseline": "middle"},
      "encoding": {
        "x": {"field": "wl", "type": "quantitative"},
        "y": {"field": "v", "type": "quantitative"},
        "text": {"field": "label"}
      }
    }
  ]
}
